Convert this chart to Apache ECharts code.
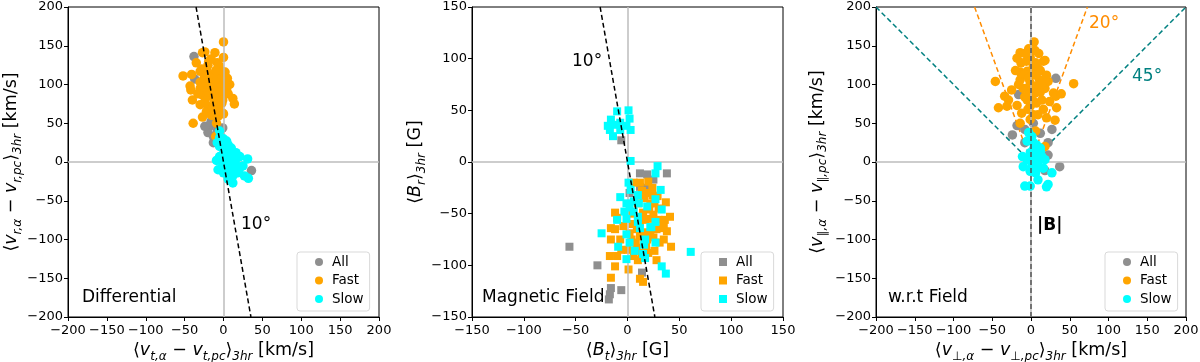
<!DOCTYPE html>
<html lang="en">
<head>
    <meta charset="UTF-8">
    <title>alpha drift</title>
    <script src="https://cdn.jsdelivr.net/npm/echarts@6/dist/echarts.min.js"></script>
</head>
<body style="margin:0">
<div id="main" style="width:1200px;height:362px"></div>
<script type="text/javascript">
    // panel 1: differential velocity (km/s)
    var diffAll = [[-38,136],[-37,107],[-20,110],[-18,46],[-20,38],[-13,33],[-13,25],[-1,44],[-5,37],[36,-11],[-11,49],[-24,46],
        [-8,40],[-16,52],[-4,30]];
    var diffFast = [[0,155],[-27,141],[-24,142],[-11,141],[-35,128],[-8,128],[-19,130],[0,135],[-16,133],
        [-52,111],[-41,113],[-30,117],[-22,119],[-9,115],[2,116],[-43,98],[-42,93],[-30,103],[-18,106],[-5,104],
        [8,100],[4,93],[-5,94],[-40,80],[-28,87],[-22,84],[-13,85],[-5,85],[12,82],[14,75],[-30,74],[-20,72],
        [-9,73],[-2,76],[-27,58],[-17,62],[-7,59],[-1,63],[-39,50],[-9,50],[-22,65],[-10,33],
        [-15,95],[-10,100],[-25,100],[-20,90],[-5,110],[-12,80],[-8,90],[5,108],[-3,98],[-18,100],[-25,108],
        [-30,95],[-14,70],[-6,68],[0,62],[-3,118],[-20,125],[-12,105],[-2,90],[-8,78],[-18,112],[-28,120],
        [-6,125],[2,105],[-15,60],[-24,78],[-33,88],[-10,118],[6,88],[-1,80],[-20,97],[-12,92]];
    var diffSlow = [[-5,40],[-8,25],[4,27],[10,18],[16,12],[0,16],[-5,7],[-9,2],[-7,-10],[2,-1],[8,5],[12,-5],
        [18,-14],[12,-27],[6,-18],[0,-14],[25,-5],[31,4],[27,-18],[32,-21],[21,7],[4,-8],[-3,7],[8,-10],[15,1],
        [2,12],[-5,20],[12,-18],[19,-6],[-5,31],[6,22],[10,-2],[14,8],[-1,-4],[6,-22],[20,-10],[0,30],[10,12]];
    var diffGuide = [[-35.3,200],[35.3,-200]];

    // panel 2: magnetic field (G)
    var magAll = [[-56,-82],[-29,-100],[-6,21],[12,-11],[19,-12],[38,-11],[25,-17],[17,-25],[14,-107],
        [-6,-124],[-16,-122],[-17,-128],[-18,-133],[12,-24],[2,-30]];
    var magFast = [[6,-20],[12,-20],[20,-19],[19,-30],[24,-32],[29,-33],[37,-39],[41,-53],[35,-60],[38,-67],
        [42,-82],[35,-75],[28,-65],[17,-56],[25,-51],[21,-46],[15,-49],[9,-65],[2,-69],[12,-72],[19,-75],
        [25,-73],[20,-88],[6,-91],[9,-83],[15,-68],[-10,-54],[-12,-49],[-16,-64],[-12,-65],[-16,-75],[-7,-75],
        [-10,-91],[-17,-91],[-12,-101],[-16,-112],[1,-104],[15,-116],[12,-113],[31,-78],[36,-56],[22,-40],
        [5,-60],[8,-78],[0,-85],[-4,-62],[14,-88],[26,-86],[30,-45],[10,-40],[16,-35],[26,-40],[20,-55],
        [30,-56],[4,-50],[12,-58],[22,-70],[18,-82],[28,-95],[4,-75],[-6,-85],[10,-95],[33,-64],[24,-25],[14,-28]];
    var magSlow = [[-10,49],[1,50],[-16,41],[-19,35],[-14,36],[-7,38],[-14,25],[2,42],[3,31],[-7,31],[-1,35],
        [-17,31],[3,1],[1,-20],[3,-27],[-7,-34],[-1,-40],[6,-38],[10,-32],[2,-44],[11,-40],[-3,-48],[-10,-56],
        [-1,-55],[10,-58],[12,-64],[6,-48],[-1,-70],[2,-78],[-9,-82],[-1,-94],[7,-86],[15,-89],[17,-93],
        [16,-80],[27,-78],[22,-63],[27,-58],[33,-46],[32,-27],[27,-36],[27,-11],[29,-4],[23,-63],[-25,-69],
        [33,-101],[37,-108],[61,-87],[17,-75],[10,-53],[19,-43]];
    var magGuide = [[-26.4,150],[26.4,-150]];

    // panel 3: velocity w.r.t. field (km/s)
    var wrtAll = [[-16,87],[32,108],[-18,47],[-24,35],[-8,42],[3,50],[-8,25],[12,37],[27,42],[22,25],[22,9],
        [37,-6],[18,-11],[-1,141]];
    var wrtFast = [[4,155],[5,144],[-14,141],[-3,146],[-18,134],[-1,135],[16,130],[18,131],[-13,128],[-14,116],
        [-5,117],[9,121],[3,113],[-46,104],[-25,93],[-34,85],[-29,80],[-42,70],[-31,72],[-14,106],[-1,102],
        [11,106],[22,104],[29,89],[32,85],[39,88],[55,101],[33,70],[31,54],[5,89],[-5,80],[7,76],[16,68],
        [3,61],[-1,55],[9,61],[14,80],[20,57],[-18,73],[-12,63],[-5,95],[3,124],[-8,113],[-1,72],[6,40],
        [18,20],[-14,50],[0,92],[8,98],[-8,84],[12,90],[-3,108],[6,112],[18,95],[-6,130],[10,140],[-10,95],
        [2,80],[12,118],[-4,68],[14,100],[-16,100],[24,78],[-20,118],[6,128],[20,112],[-8,140],[-2,88]];
    var wrtSlow = [[-3,38],[1,33],[-5,27],[7,22],[3,16],[12,18],[-1,12],[5,7],[14,7],[-5,3],[3,0],[9,-1],
        [-10,-6],[-1,-12],[6,-14],[16,-8],[27,-14],[9,-23],[-1,-31],[-8,-31],[22,-29],[20,-32],[-11,7],
        [12,14],[3,25],[8,-8],[1,-6],[18,3]];
    var wrt45 = [[-200,200],[0,0],[200,200]];
    var wrt20 = [[-72.8,200],[0,0],[72.8,200]];
    var wrtB = [[0,-200],[0,200]];

    var xTicks = [[-200,200,50],[-150,150,50],[-200,200,50]];
    var yTicks = [[-200,200,50],[-150,150,50],[-200,200,50]];

    var font = 'DejaVu Sans';
    var grayColor = '#8f8f8f';
    var fastColor = '#ffa500';
    var slowColor = '#00ffff';
    var gridLeft = [68, 472, 876];
    var gridWidth = [311, 311, 310];

    var richStyle = {
        n: {fontFamily: font, fontSize: 17.5, color: '#000', lineHeight: 20, verticalAlign: 'top'},
        i: {fontFamily: font, fontSize: 17.5, fontStyle: 'italic', color: '#000', lineHeight: 20, verticalAlign: 'top'},
        s: {fontFamily: font, fontSize: 12, fontStyle: 'italic', color: '#000', lineHeight: 13, padding: [9, 0, 0, 0], verticalAlign: 'top'}
    };
    var xNames = [
        '{n|⟨}{i|v}{s|t,α}{n| − }{i|v}{s|t,pc}{n|⟩}{s|3hr}{n| [km/s]}',
        '{n|⟨}{i|B}{s|t}{n|⟩}{s|3hr}{n| [G]}',
        '{n|⟨}{i|v}{s|⊥,α}{n| − }{i|v}{s|⊥,pc}{n|⟩}{s|3hr}{n| [km/s]}'
    ];
    var yNames = [
        '{n|⟨}{i|v}{s|r,α}{n| − }{i|v}{s|r,pc}{n|⟩}{s|3hr}{n| [km/s]}',
        '{n|⟨}{i|B}{s|r}{n|⟩}{s|3hr}{n| [G]}',
        '{n|⟨}{i|v}{s|∥,α}{n| − }{i|v}{s|∥,pc}{n|⟩}{s|3hr}{n| [km/s]}'
    ];
    var yGaps = [45, 44, 48];

    var grids = [], xAxes = [], yAxes = [], series = [], legends = [];
    for (var k = 0; k < 3; k++) {
        grids.push({left: gridLeft[k], width: gridWidth[k], top: 7, height: 310, outerBoundsMode: 'none',
            show: true, borderColor: '#000', borderWidth: 1, backgroundColor: 'transparent'});
        xAxes.push(axisOf(k, xTicks[k], xNames[k], 24, 0, 'x'));
        yAxes.push(axisOf(k, yTicks[k], yNames[k], yGaps[k], 90, 'y'));
        // light zero lines
        series.push({
            type: 'line', xAxisIndex: k, yAxisIndex: k, data: [], silent: true, z: 1,
            markLine: {
                silent: true, symbol: 'none', label: {show: false}, animation: false,
                lineStyle: {color: '#bdbdbd', type: 'solid', width: 1.5},
                data: [{xAxis: 0}, {yAxis: 0}]
            }
        });
    }

    function axisOf(k, t, name, gap, rot, dir) {
        return {
            type: 'value', gridIndex: k, min: t[0], max: t[1], interval: t[2],
            name: name, nameLocation: 'middle', nameGap: gap, nameRotate: rot,
            nameTextStyle: {rich: richStyle},
            axisLine: {show: true, onZero: false, lineStyle: {color: '#000', width: 1}},
            axisTick: {show: true, inside: false, length: 4, lineStyle: {color: '#000'}},
            axisLabel: {color: '#000', fontFamily: font, fontSize: 13, margin: dir === 'x' ? 7 : 5,
                formatter: function (v) { return v < 0 ? '\u2212' + (-v) : '' + v; }},
            splitLine: {show: false}
        };
    }

    function pts(name, k, data, symbol, size, color, z) {
        return {type: 'scatter', name: name, xAxisIndex: k, yAxisIndex: k, data: data, z: z,
            symbol: symbol, symbolSize: size, itemStyle: {color: color, opacity: 1}, silent: true};
    }

    function dash(k, data, color, z) {
        return {type: 'line', xAxisIndex: k, yAxisIndex: k, data: data, z: z, symbol: 'none', silent: true,
            lineStyle: {color: color, width: 1.5, type: [5, 3]}};
    }

    series.push(dash(2, wrt45, '#008080', 2));
    series.push(dash(2, wrt20, '#ff8c00', 2));

    series.push(pts('All', 0, diffAll, 'circle', 9.5, grayColor, 3));
    series.push(pts('Fast', 0, diffFast, 'circle', 9.5, fastColor, 4));
    series.push(pts('Slow', 0, diffSlow, 'circle', 9.5, slowColor, 5));
    series.push(pts('All', 1, magAll, 'rect', 8, grayColor, 3));
    series.push(pts('Fast', 1, magFast, 'rect', 8, fastColor, 4));
    series.push(pts('Slow', 1, magSlow, 'rect', 8, slowColor, 5));
    series.push(pts('All', 2, wrtAll, 'circle', 9.5, grayColor, 3));
    series.push(pts('Fast', 2, wrtFast, 'circle', 9.5, fastColor, 4));
    series.push(pts('Slow', 2, wrtSlow, 'circle', 9.5, slowColor, 5));

    series.push(dash(0, diffGuide, '#000', 6));
    series.push(dash(1, magGuide, '#000', 6));
    series.push(dash(2, wrtB, '#555', 6));

    var legendLeft = [297, 701, 1105];
    var legendIcon = ['circle', 'square', 'circle'];
    for (var j = 0; j < 3; j++) {
        legends.push({
            left: legendLeft[j], top: 252, orient: 'vertical', selectedMode: false,
            itemWidth: 8, itemHeight: 8, itemGap: 4.5,
            padding: [3, 6, 5, 18],
            borderColor: '#d9d9d9', borderWidth: 1, borderRadius: 3, backgroundColor: '#fff',
            textStyle: {color: '#000', fontFamily: font, fontSize: 13.5, lineHeight: 14, padding: [0, 0, 0, 4]},
            data: [{name: 'All', icon: legendIcon[j]}, {name: 'Fast', icon: legendIcon[j]}, {name: 'Slow', icon: legendIcon[j]}]
        });
    }

    function note(x, y, text, color, weight) {
        return {type: 'text', left: x, top: y - 10, z: 100,
            style: {text: text, fill: color, font: (weight || 'normal') + ' 17px "DejaVu Sans"'}};
    }

    var chart = echarts.init(document.getElementById('main'));
    chart.setOption({
        animation: false,
        backgroundColor: '#fff',
        grid: grids,
        xAxis: xAxes,
        yAxis: yAxes,
        legend: legends,
        series: series,
        graphic: [
            note(241, 226, '10°', '#000'),
            note(82, 299, 'Differential', '#000'),
            note(572, 63, '10°', '#000'),
            note(482, 299, 'Magnetic Field', '#000'),
            note(1089, 25, '20°', '#ff8c00'),
            note(1132, 78, '45°', '#008080'),
            note(1037, 227, '|B|', '#000', 'bold'),
            note(888, 299, 'w.r.t Field', '#000')
        ]
    });
</script>
</body>
</html>
